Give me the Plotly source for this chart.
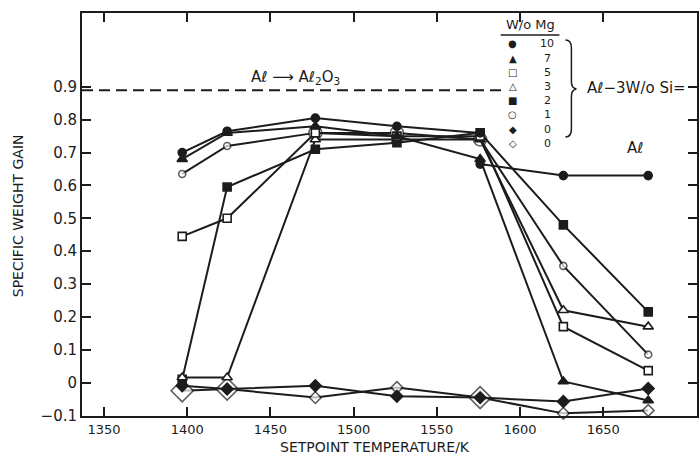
import plotly.graph_objects as go

# ---------------- data ----------------
temps = [1397, 1424, 1477, 1526, 1576, 1626, 1677]

mg10 = [0.70, 0.765, 0.805, 0.78, 0.76]
mg7 = [0.68, 0.76, 0.78, 0.75, 0.68, 0.003, -0.055]
mg5 = [0.445, 0.50, 0.76, 0.75, 0.75, 0.17, 0.036]
mg3 = [0.015, 0.015, 0.74, 0.74, 0.74, 0.22, 0.17]
mg2 = [0.01, 0.595, 0.71, 0.73, 0.76, 0.48, 0.215]
mg1 = [0.635, 0.72, 0.76, 0.76, 0.74, 0.355, 0.085]
mg0_filled = [-0.01, -0.02, -0.01, -0.042, -0.046, -0.058, -0.018]
mg0_open = [-0.025, -0.02, -0.046, -0.015, -0.046, -0.094, -0.085]

al_temps = [1576, 1626, 1677]
al_pure = [0.665, 0.63, 0.63]

legend_labels = ["10", "7", "5", "3", "2", "1", "0", "0"]
legend_glyphs = ["●", "▲", "□", "△", "■", "○", "◆", "◇"]

x_ticks = [1350, 1400, 1450, 1500, 1550, 1600, 1650]
y_ticks = [-0.1, 0, 0.1, 0.2, 0.3, 0.4, 0.5, 0.6, 0.7, 0.8, 0.9]
y_ticktext = ["−0.1", "0", "0.1", "0.2", "0.3", "0.4", "0.5", "0.6", "0.7", "0.8", "0.9"]

oxide_level = 0.89

# ---------------- styling helpers ----------------
INK = "#1c1c1c"
FONT = "DejaVu Sans"
W, H = 699, 457
ML, MR, MT, MB = 82, 0, 13, 41
PW, PH = W - ML - MR, H - MT - MB


def pxx(p):
    return (p - ML) / PW


def pxy(p):
    return (H - MB - p) / PH


fig = go.Figure()


def add_series(x, y, symbol, size, filled):
    fig.add_trace(go.Scatter(
        x=x, y=y, mode="lines+markers", showlegend=False,
        line=dict(color=INK, width=2),
        marker=dict(symbol=symbol, size=size,
                    color=INK if filled else "white",
                    line=dict(color=INK, width=1.6)),
        cliponaxis=False,
    ))


add_series(temps, mg0_open, "diamond", [17, 17, 9, 9, 17, 9, 9], False)
add_series(temps, mg0_filled, "diamond", 9, True)
add_series(temps, mg1, "circle", [7, 7, 13, 13, 13, 7, 7], False)
add_series(temps, mg2, "square", 8, True)
add_series(temps, mg3, "triangle-up", 9, False)
add_series(temps, mg5, "square", 8, False)
add_series(temps, mg7, "triangle-up", 9, True)
add_series(temps[:len(mg10)], mg10, "circle", 8, True)
add_series(al_temps, al_pure, "circle", 8, True)

# dashed Al -> Al2O3 line
fig.add_shape(type="line", xref="paper", yref="y",
              x0=0, x1=pxx(503), y0=oxide_level, y1=oxide_level,
              line=dict(color=INK, width=2, dash="11px,6px"))

ann = []
ann.append(dict(text="Aℓ ⟶ Aℓ<sub>2</sub>O<sub>3</sub>", x=pxx(250), y=pxy(77),
                xanchor="left", yanchor="middle", font=dict(size=15)))
ann.append(dict(text="W/o Mg", x=pxx(532), y=pxy(25), xanchor="center",
                yanchor="middle", font=dict(size=13)))
ann.append(dict(text="Aℓ−3W/o Si=", x=pxx(587), y=pxy(88), xanchor="left",
                yanchor="middle", font=dict(size=15)))
ann.append(dict(text="Aℓ", x=pxx(637), y=pxy(148), xanchor="center",
                yanchor="middle", font=dict(size=15)))

leg_y = [44, 58, 72, 86, 100, 114, 129, 144]
for g, lab, yy in zip(legend_glyphs, legend_labels, leg_y):
    ann.append(dict(text=g, x=pxx(514), y=pxy(yy), xanchor="center",
                    yanchor="middle", font=dict(size=10)))
    ann.append(dict(text=lab, x=pxx(549), y=pxy(yy), xanchor="center",
                    yanchor="middle", font=dict(size=11)))

ann.append(dict(text="SETPOINT TEMPERATURE/K", x=pxx(376), y=pxy(457),
                xanchor="center", yanchor="bottom", font=dict(size=14)))
ann.append(dict(text="SPECIFIC WEIGHT GAIN", x=pxx(18), y=pxy(216),
                xanchor="center", yanchor="middle", textangle=-90,
                font=dict(size=14)))

for a in ann:
    a.update(xref="paper", yref="paper", showarrow=False)
    a["font"].update(family=FONT, color=INK)

# underline for legend header
fig.add_shape(type="line", xref="paper", yref="paper",
              x0=pxx(502), x1=pxx(561), y0=pxy(35), y1=pxy(35),
              line=dict(color=INK, width=1.5))

# brace
bx = 573
brace = (f"M {pxx(bx-6)} {pxy(40)} Q {pxx(bx)} {pxy(40)} {pxx(bx)} {pxy(48)} "
         f"L {pxx(bx)} {pxy(82)} Q {pxx(bx)} {pxy(88)} {pxx(bx+5)} {pxy(89)} "
         f"Q {pxx(bx)} {pxy(90)} {pxx(bx)} {pxy(96)} "
         f"L {pxx(bx)} {pxy(129)} Q {pxx(bx)} {pxy(137)} {pxx(bx-6)} {pxy(137)}")
fig.add_shape(type="path", xref="paper", yref="paper", path=brace,
              line=dict(color=INK, width=1.5))

fig.update_layout(
    width=W, height=H,
    margin=dict(l=ML, r=MR, t=MT, b=MB),
    paper_bgcolor="white", plot_bgcolor="white",
    annotations=ann,
    showlegend=False,
    font=dict(family=FONT, color=INK),
)

fig.update_xaxes(
    range=[1336.8, 1706.3], tickvals=x_ticks, ticks="inside", ticklen=9,
    tickwidth=2, tickcolor=INK, showline=True, linecolor=INK, linewidth=2,
    mirror="ticks", showgrid=False, zeroline=False,
    tickfont=dict(family=FONT, size=13, color=INK),
)
fig.update_yaxes(
    range=[-0.102, 1.125], tickvals=y_ticks, ticktext=y_ticktext,
    ticks="inside", ticklen=9, tickwidth=2, tickcolor=INK, showline=True,
    linecolor=INK, linewidth=2, mirror="ticks", showgrid=False,
    zeroline=False, tickfont=dict(family=FONT, size=15, color=INK),
)

fig.write_html("out.html")
